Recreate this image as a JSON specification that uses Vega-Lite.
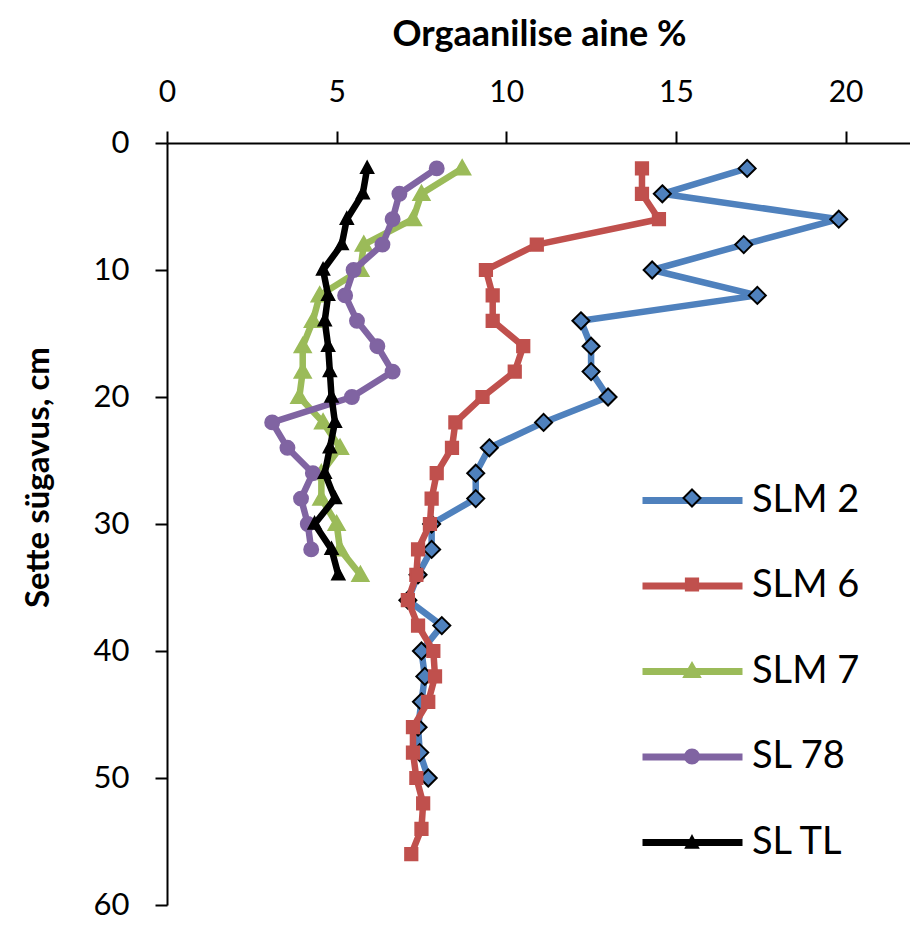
{
  "$schema": "https://vega.github.io/schema/vega-lite/v6.json",
  "width": 743,
  "height": 762,
  "autosize": {"type": "none"},
  "padding": {"left": 167, "top": 143, "right": 0, "bottom": 24},
  "background": "white",
  "config": {
    "view": {"stroke": null},
    "font": "Lato",
    "axis": {"grid": false, "domainColor": "#000", "domainWidth": 2, "tickColor": "#000", "tickWidth": 2, "tickSize": 12, "labelColor": "#000", "labelFont": "Lato", "labelFontSize": 30, "labelPadding": 26, "labelFlush": false, "labelOverlap": false, "titleFont": "Lato", "titleFontWeight": "bold", "titleColor": "#000", "titleFontSize": 35}
  },
  "data": {"values": [
    {"series": "SLM 2", "depth": 2, "om": 17.1},
    {"series": "SLM 2", "depth": 4, "om": 14.6},
    {"series": "SLM 2", "depth": 6, "om": 19.8},
    {"series": "SLM 2", "depth": 8, "om": 17.0},
    {"series": "SLM 2", "depth": 10, "om": 14.3},
    {"series": "SLM 2", "depth": 12, "om": 17.4},
    {"series": "SLM 2", "depth": 14, "om": 12.2},
    {"series": "SLM 2", "depth": 16, "om": 12.5},
    {"series": "SLM 2", "depth": 18, "om": 12.5},
    {"series": "SLM 2", "depth": 20, "om": 13.0},
    {"series": "SLM 2", "depth": 22, "om": 11.1},
    {"series": "SLM 2", "depth": 24, "om": 9.5},
    {"series": "SLM 2", "depth": 26, "om": 9.1},
    {"series": "SLM 2", "depth": 28, "om": 9.1},
    {"series": "SLM 2", "depth": 30, "om": 7.8},
    {"series": "SLM 2", "depth": 32, "om": 7.8},
    {"series": "SLM 2", "depth": 34, "om": 7.4},
    {"series": "SLM 2", "depth": 36, "om": 7.1},
    {"series": "SLM 2", "depth": 38, "om": 8.1},
    {"series": "SLM 2", "depth": 40, "om": 7.5},
    {"series": "SLM 2", "depth": 42, "om": 7.6},
    {"series": "SLM 2", "depth": 44, "om": 7.5},
    {"series": "SLM 2", "depth": 46, "om": 7.4},
    {"series": "SLM 2", "depth": 48, "om": 7.45},
    {"series": "SLM 2", "depth": 50, "om": 7.7},
    {"series": "SLM 6", "depth": 2, "om": 14.0},
    {"series": "SLM 6", "depth": 4, "om": 14.0},
    {"series": "SLM 6", "depth": 6, "om": 14.5},
    {"series": "SLM 6", "depth": 8, "om": 10.9},
    {"series": "SLM 6", "depth": 10, "om": 9.4},
    {"series": "SLM 6", "depth": 12, "om": 9.6},
    {"series": "SLM 6", "depth": 14, "om": 9.6},
    {"series": "SLM 6", "depth": 16, "om": 10.5},
    {"series": "SLM 6", "depth": 18, "om": 10.25},
    {"series": "SLM 6", "depth": 20, "om": 9.3},
    {"series": "SLM 6", "depth": 22, "om": 8.5},
    {"series": "SLM 6", "depth": 24, "om": 8.4},
    {"series": "SLM 6", "depth": 26, "om": 7.95},
    {"series": "SLM 6", "depth": 28, "om": 7.8},
    {"series": "SLM 6", "depth": 30, "om": 7.75},
    {"series": "SLM 6", "depth": 32, "om": 7.4},
    {"series": "SLM 6", "depth": 34, "om": 7.35},
    {"series": "SLM 6", "depth": 36, "om": 7.1},
    {"series": "SLM 6", "depth": 38, "om": 7.4},
    {"series": "SLM 6", "depth": 40, "om": 7.85},
    {"series": "SLM 6", "depth": 42, "om": 7.9},
    {"series": "SLM 6", "depth": 44, "om": 7.7},
    {"series": "SLM 6", "depth": 46, "om": 7.25},
    {"series": "SLM 6", "depth": 48, "om": 7.25},
    {"series": "SLM 6", "depth": 50, "om": 7.35},
    {"series": "SLM 6", "depth": 52, "om": 7.55},
    {"series": "SLM 6", "depth": 54, "om": 7.5},
    {"series": "SLM 6", "depth": 56, "om": 7.2},
    {"series": "SLM 7", "depth": 2, "om": 8.7},
    {"series": "SLM 7", "depth": 4, "om": 7.5},
    {"series": "SLM 7", "depth": 6, "om": 7.25},
    {"series": "SLM 7", "depth": 8, "om": 5.8},
    {"series": "SLM 7", "depth": 10, "om": 5.7},
    {"series": "SLM 7", "depth": 12, "om": 4.5},
    {"series": "SLM 7", "depth": 14, "om": 4.3},
    {"series": "SLM 7", "depth": 16, "om": 4.0},
    {"series": "SLM 7", "depth": 18, "om": 4.0},
    {"series": "SLM 7", "depth": 20, "om": 3.9},
    {"series": "SLM 7", "depth": 22, "om": 4.6},
    {"series": "SLM 7", "depth": 24, "om": 5.1},
    {"series": "SLM 7", "depth": 26, "om": 4.55},
    {"series": "SLM 7", "depth": 28, "om": 4.55},
    {"series": "SLM 7", "depth": 30, "om": 5.0},
    {"series": "SLM 7", "depth": 32, "om": 5.1},
    {"series": "SLM 7", "depth": 34, "om": 5.7},
    {"series": "SL 78", "depth": 2, "om": 7.95},
    {"series": "SL 78", "depth": 4, "om": 6.85},
    {"series": "SL 78", "depth": 6, "om": 6.65},
    {"series": "SL 78", "depth": 8, "om": 6.35},
    {"series": "SL 78", "depth": 10, "om": 5.5},
    {"series": "SL 78", "depth": 12, "om": 5.25},
    {"series": "SL 78", "depth": 14, "om": 5.6},
    {"series": "SL 78", "depth": 16, "om": 6.2},
    {"series": "SL 78", "depth": 18, "om": 6.65},
    {"series": "SL 78", "depth": 20, "om": 5.45},
    {"series": "SL 78", "depth": 22, "om": 3.1},
    {"series": "SL 78", "depth": 24, "om": 3.55},
    {"series": "SL 78", "depth": 26, "om": 4.3},
    {"series": "SL 78", "depth": 28, "om": 3.95},
    {"series": "SL 78", "depth": 30, "om": 4.15},
    {"series": "SL 78", "depth": 32, "om": 4.25},
    {"series": "SL TL", "depth": 2, "om": 5.9},
    {"series": "SL TL", "depth": 4, "om": 5.77},
    {"series": "SL TL", "depth": 6, "om": 5.3},
    {"series": "SL TL", "depth": 8, "om": 5.15},
    {"series": "SL TL", "depth": 10, "om": 4.6},
    {"series": "SL TL", "depth": 12, "om": 4.75},
    {"series": "SL TL", "depth": 14, "om": 4.65},
    {"series": "SL TL", "depth": 16, "om": 4.75},
    {"series": "SL TL", "depth": 18, "om": 4.8},
    {"series": "SL TL", "depth": 20, "om": 4.85},
    {"series": "SL TL", "depth": 22, "om": 4.95},
    {"series": "SL TL", "depth": 24, "om": 4.8},
    {"series": "SL TL", "depth": 26, "om": 4.65},
    {"series": "SL TL", "depth": 28, "om": 4.95},
    {"series": "SL TL", "depth": 30, "om": 4.35},
    {"series": "SL TL", "depth": 32, "om": 4.85},
    {"series": "SL TL", "depth": 34, "om": 5.05}
  ]},
  "encoding": {
    "x": {"field": "om", "type": "quantitative", "scale": {"domain": [0, 21.9], "nice": false, "zero": false},
      "axis": {"orient": "top", "values": [0, 5, 10, 15, 20], "title": "Orgaanilise aine %", "titleX": 372, "titleY": -98, "titleBaseline": "alphabetic", "titleAlign": "center", "titleAnchor": null, "titleFontSize": 36, "labelPadding": 24}},
    "y": {"field": "depth", "type": "quantitative", "scale": {"domain": [0, 60], "reverse": true, "nice": false, "zero": false},
      "axis": {"orient": "left", "values": [0, 10, 20, 30, 40, 50, 60], "title": "Sette sügavus, cm", "titleAngle": -90, "titleX": -129, "titleY": 334, "titleAlign": "center", "titleBaseline": "middle", "titleFontSize": 33, "labelPadding": 26, "labelAlign": "right", "labelBaseline": "middle", "labelFontSize": 31}}
  },
  "layer": [
    {"transform": [{"filter": {"field": "series", "equal": "SLM 2"}}],
     "mark": {"type": "line", "strokeWidth": 6.5, "strokeJoin": "round", "strokeCap": "round"},
     "encoding": {"order": {"field": "depth", "type": "quantitative"},
       "color": {"field": "series", "type": "nominal",
         "scale": {"domain": ["SLM 2", "SLM 6", "SLM 7", "SL 78", "SL TL"], "range": ["#4F81BD", "#C0504D", "#9BBB59", "#8064A2", "#000000"]},
         "legend": {"orient": "none", "legendX": 472, "legendY": 304, "title": null, "symbolType": "stroke", "symbolSize": 10000, "symbolStrokeWidth": 7, "labelFont": "Lato", "labelFontSize": 38, "labelColor": "#000", "labelOffset": 6, "rowPadding": 12.5, "padding": 0}}}},
    {"transform": [{"filter": {"field": "series", "equal": "SLM 2"}}],
     "mark": {"type": "point", "filled": true, "size": 289, "strokeWidth": 2, "opacity": 1},
     "encoding": {
       "fill": {"field": "series", "type": "nominal", "scale": {"domain": ["SL 78", "SL TL", "SLM 2", "SLM 6", "SLM 7"], "range": ["#8064A2", "#000000", "#4F81BD", "#C0504D", "#9BBB59"]},
         "legend": {"orient": "none", "legendX": 515.5, "legendY": 345.5, "title": null, "values": ["SLM 2", "SLM 6", "SLM 7", "SL 78", "SL TL"], "symbolSize": 289, "symbolStrokeWidth": 2, "symbolOpacity": 1, "labelFontSize": 1, "labelExpr": "''", "labelOffset": 0, "rowPadding": 63.5, "padding": 0}},
       "stroke": {"field": "series", "type": "nominal", "scale": {"domain": ["SL 78", "SL TL", "SLM 2", "SLM 6", "SLM 7"], "range": ["#8064A2", "#000000", "#000000", "#C0504D", "#9BBB59"]}},
       "shape": {"field": "series", "type": "nominal", "scale": {"domain": ["SL 78", "SL TL", "SLM 2", "SLM 6", "SLM 7"], "range": ["M0.82,0A0.82,0.82,0,1,1,-0.82,0A0.82,0.82,0,1,1,0.82,0Z", "M0,-0.8L0.72,0.55L-0.72,0.55Z", "M0,-1L1,0L0,1L-1,0Z", "M-0.72,-0.72H0.72V0.72H-0.72Z", "M0,-0.95L0.95,0.72L-0.95,0.72Z"]}}
     }},
    {"transform": [{"filter": {"field": "series", "equal": "SLM 6"}}],
     "mark": {"type": "line", "strokeWidth": 6.5, "strokeJoin": "round", "strokeCap": "round"},
     "encoding": {"order": {"field": "depth", "type": "quantitative"}, "color": {"field": "series", "type": "nominal"}}},
    {"transform": [{"filter": {"field": "series", "equal": "SLM 6"}}],
     "mark": {"type": "point", "filled": true, "size": 289, "strokeWidth": 2, "opacity": 1},
     "encoding": {"fill": {"field": "series", "type": "nominal"}, "stroke": {"field": "series", "type": "nominal"}, "shape": {"field": "series", "type": "nominal"}}},
    {"transform": [{"filter": {"field": "series", "equal": "SLM 7"}}],
     "mark": {"type": "line", "strokeWidth": 6.5, "strokeJoin": "round", "strokeCap": "round"},
     "encoding": {"order": {"field": "depth", "type": "quantitative"}, "color": {"field": "series", "type": "nominal"}}},
    {"transform": [{"filter": {"field": "series", "equal": "SLM 7"}}],
     "mark": {"type": "point", "filled": true, "size": 289, "strokeWidth": 2, "opacity": 1},
     "encoding": {"fill": {"field": "series", "type": "nominal"}, "stroke": {"field": "series", "type": "nominal"}, "shape": {"field": "series", "type": "nominal"}}},
    {"transform": [{"filter": {"field": "series", "equal": "SL 78"}}],
     "mark": {"type": "line", "strokeWidth": 6.5, "strokeJoin": "round", "strokeCap": "round"},
     "encoding": {"order": {"field": "depth", "type": "quantitative"}, "color": {"field": "series", "type": "nominal"}}},
    {"transform": [{"filter": {"field": "series", "equal": "SL 78"}}],
     "mark": {"type": "point", "filled": true, "size": 289, "strokeWidth": 2, "opacity": 1},
     "encoding": {"fill": {"field": "series", "type": "nominal"}, "stroke": {"field": "series", "type": "nominal"}, "shape": {"field": "series", "type": "nominal"}}},
    {"transform": [{"filter": {"field": "series", "equal": "SL TL"}}],
     "mark": {"type": "line", "strokeWidth": 6.5, "strokeJoin": "round", "strokeCap": "round"},
     "encoding": {"order": {"field": "depth", "type": "quantitative"}, "color": {"field": "series", "type": "nominal"}}},
    {"transform": [{"filter": {"field": "series", "equal": "SL TL"}}],
     "mark": {"type": "point", "filled": true, "size": 289, "strokeWidth": 2, "opacity": 1},
     "encoding": {"fill": {"field": "series", "type": "nominal"}, "stroke": {"field": "series", "type": "nominal"}, "shape": {"field": "series", "type": "nominal"}}}
  ]
}
